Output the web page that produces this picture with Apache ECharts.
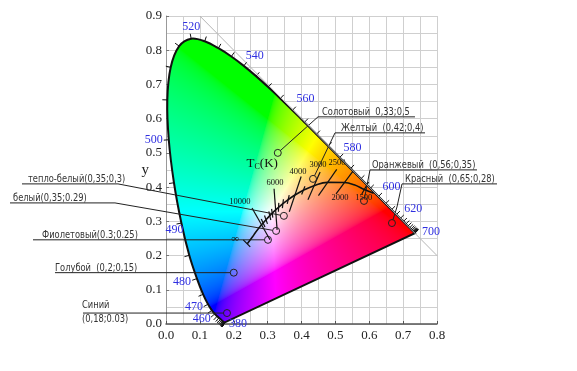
<!DOCTYPE html>
<html><head><meta charset="utf-8">
<script src="https://cdn.jsdelivr.net/npm/echarts@6/dist/echarts.min.js"></script>
<style>html,body{margin:0;padding:0;background:#fff}#c{width:577px;height:371px}</style>
</head><body><div id="c"></div>
<script>
// ---------- DATA ----------
// CIE 1931 spectral locus (5 nm steps)
const wavelengths = [380,385,390,395,400,405,410,415,420,425,430,435,440,445,450,455,460,465,470,475,480,485,490,495,500,505,510,515,520,525,530,535,540,545,550,555,560,565,570,575,580,585,590,595,600,605,610,615,620,625,630,635,640,645,650,655,660,665,670,675,680,685,690,695,700];
const locusX = [0.1741,0.1740,0.1738,0.1736,0.1733,0.1730,0.1726,0.1721,0.1714,0.1703,0.1689,0.1669,0.1644,0.1611,0.1566,0.1510,0.1440,0.1355,0.1241,0.1096,0.0913,0.0687,0.0454,0.0235,0.0082,0.0039,0.0139,0.0389,0.0743,0.1142,0.1547,0.1929,0.2296,0.2658,0.3016,0.3373,0.3731,0.4087,0.4441,0.4788,0.5125,0.5448,0.5752,0.6029,0.6270,0.6482,0.6658,0.6801,0.6915,0.7006,0.7079,0.7140,0.7190,0.7230,0.7260,0.7283,0.7300,0.7311,0.7320,0.7327,0.7334,0.7340,0.7344,0.7346,0.7347];
const locusY = [0.0050,0.0050,0.0049,0.0049,0.0048,0.0048,0.0048,0.0048,0.0051,0.0058,0.0069,0.0086,0.0109,0.0138,0.0177,0.0227,0.0297,0.0399,0.0578,0.0868,0.1327,0.2007,0.2950,0.4127,0.5384,0.6548,0.7502,0.8120,0.8338,0.8262,0.8059,0.7816,0.7543,0.7243,0.6923,0.6589,0.6245,0.5896,0.5547,0.5202,0.4866,0.4544,0.4242,0.3965,0.3725,0.3514,0.3340,0.3197,0.3083,0.2993,0.2920,0.2859,0.2809,0.2770,0.2740,0.2717,0.2700,0.2689,0.2680,0.2673,0.2666,0.2660,0.2656,0.2654,0.2653];
const labeledNm = [520,540,560,580,600,620,700,500,490,480,470,460,380];

// Planckian locus (from infinity down to ~1300 K)
const planckX = [0.2399,0.2565,0.2637,0.2807,0.2952,0.3064,0.3221,0.3451,0.3608,0.3805,0.4053,0.4369,0.4770,0.5267,0.5554,0.5857,0.6130];
const planckY = [0.2342,0.2564,0.2667,0.2884,0.3048,0.3166,0.3318,0.3516,0.3636,0.3768,0.3907,0.4041,0.4137,0.4133,0.4068,0.3931,0.3820];

// isotemperature lines (x1,y1,x2,y2)
const isoTemp = [10000,6000,4000,3000,2500,2000,1500,9000,8000,7000,6500,5500,5000,4500,3500];
const isoX1 = [0.254,0.319,0.399,0.455,0.504,0.552,0.598,0.2812,0.2908,0.3035,0.3117,0.3329,0.3467,0.3637,0.4102];
const isoY1 = [0.339,0.395,0.431,0.444,0.452,0.447,0.415,0.3070,0.3170,0.3293,0.3365,0.3540,0.3645,0.3763,0.4028];
const isoX2 = [0.307,0.328,0.364,0.419,0.450,0.502,0.578,0.2922,0.2996,0.3093,0.3153,0.3319,0.3435,0.3579,0.4004];
const isoY2 = [0.246,0.275,0.328,0.363,0.375,0.380,0.380,0.2834,0.2926,0.3039,0.3107,0.3280,0.3387,0.3509,0.3786];

// temperature labels
const tempLabelText = ['10000','6000','4000','3000','2500','2000','1500','\u221E'];
const tempLabelX = [0.218,0.322,0.390,0.449,0.505,0.514,0.584,0.204];
const tempLabelY = [0.357,0.412,0.444,0.465,0.471,0.368,0.368,0.249];

// annotated colour points
const annotTextAbove = ['\u0421\u043e\u043b\u043e\u0442\u043e\u0432\u044b\u0439  0,33;0,5','\u0416\u0435\u043b\u0442\u044b\u0439  (0,42;0,4)','\u041e\u0440\u0430\u043d\u0436\u0435\u0432\u044b\u0439  (0,56;0,35)','\u041a\u0440\u0430\u0441\u043d\u044b\u0439  (0,65;0,28)','\u0442\u0435\u043f\u043b\u043e-\u0431\u0435\u043b\u044b\u0439(0,35;0,3)','\u0431\u0435\u043b\u044b\u0439(0,35;0.29)','\u0424\u0438\u043e\u043b\u0435\u0442\u043e\u0432\u044b\u0439(0.3;0.25)','\u0413\u043e\u043b\u0443\u0431\u043e\u0439  (0,2;0,15)','\u0421\u0438\u043d\u0438\u0439'];
const annotTextBelow = ['','','','','','','','','(0,18;0.03)'];
const annotX = [0.330,0.434,0.5845,0.667,0.348,0.325,0.301,0.200,0.180];
const annotY = [0.500,0.424,0.3596,0.295,0.316,0.272,0.246,0.150,0.032];

// ---------- LAYOUT (leader lines, in axis units) ----------
const ulX0 = [0.4487,0.4989,0.6022,0.6967,-0.4251,-0.4605,-0.3926,-0.3277,-0.2450];
const ulX1 = [0.7350,0.7646,0.9181,0.9771,-0.1417,-0.1506,0.301,0.200,0.180];
const ulY  = [0.6053,0.5585,0.4503,0.4094,0.4094,0.3538,0.246,0.150,0.032];
const ulNearLeft = [true,true,true,true,false,false,false,false,false];
const elbows = [[],[],[],[[0.6819,0.3421]],[],[],[],[],[]];
const textDx = [4,6,2,3,6,3,9,0,-1];
const wlOffset = {520:[0,-12],540:[11,-10],560:[13,-11],580:[13,-10],600:[13,-10],620:[13,-10],700:[16,-1],500:[-15,0],490:[-7,7],480:[-15,3],470:[-14,3],460:[-13,5],380:[13,2]};

const SERIF = '"Liberation Serif","DejaVu Serif",serif';
const NARROW = '"DejaVu Sans Condensed","Liberation Sans",sans-serif';
const BLUE = '#2f2fe0';

// ---------- helpers ----------
function catmull(pts){
  let d = 'M ' + pts[0][0] + ' ' + pts[0][1];
  for (let i=0;i<pts.length-1;i++){
    const p0=pts[i-1]||pts[i], p1=pts[i], p2=pts[i+1], p3=pts[i+2]||pts[i+1];
    const c1=[p1[0]+(p2[0]-p0[0])/6, p1[1]+(p2[1]-p0[1])/6];
    const c2=[p2[0]-(p3[0]-p1[0])/6, p2[1]-(p3[1]-p1[1])/6];
    d += ' C '+c1[0]+' '+c1[1]+' '+c2[0]+' '+c2[1]+' '+p2[0]+' '+p2[1];
  }
  return d;
}
function gam(v){ return v<=0.0031308 ? 12.92*v : 1.055*Math.pow(v,1/2.4)-0.055; }
let gamutCanvas = null;
function buildGamut(x0,y0,w,h,a,b,d){
  const cc=document.createElement('canvas'); cc.width=w; cc.height=h;
  const c2=cc.getContext('2d'); const img=c2.createImageData(w,h);
  for(let j=0;j<h;j++){
    for(let i=0;i<w;i++){
      const px=x0+i+0.5, py=y0+j+0.5;
      const x=(px-a[0])/(b[0]-a[0])*0.8;
      const y=0.9-(py-a[1])/(b[1]-a[1])*0.9;
      const k=(j*w+i)*4;
      if (y<=0.0005 || x<=0){ img.data[k+3]=0; continue; }
      const X=x/y, Y=1, Z=(1-x-y)/y;
      let r=3.2406*X-1.5372*Y-0.4986*Z;
      let g=-0.9689*X+1.8758*Y+0.0415*Z;
      let bl=0.0557*X-0.2040*Y+1.0570*Z;
      r=Math.max(0,r); g=Math.max(0,g); bl=Math.max(0,bl);
      const m=Math.max(r,g,bl)||1;
      img.data[k]=Math.round(255*gam(r/m));
      img.data[k+1]=Math.round(255*gam(g/m));
      img.data[k+2]=Math.round(255*gam(bl/m));
      img.data[k+3]=255;
    }
  }
  c2.putImageData(img,0,0);
  const c=document.createElement('canvas'); c.width=w; c.height=h;
  const ctx=c.getContext('2d');
  ctx.translate(-x0,-y0);
  ctx.clip(new Path2D(d));
  ctx.drawImage(cc,x0,y0);
  return c;
}

function renderGamut(params, api){
  const pts = wavelengths.map((w,i)=>api.coord([locusX[i],locusY[i]]));
  const d = catmull(pts) + ' Z';
  const a = api.coord([0,0.9]), b = api.coord([0.8,0]);
  const x0=Math.floor(a[0]), y0=Math.floor(a[1]);
  const w=Math.ceil(b[0]-x0), h=Math.ceil(b[1]-y0);
  if(!gamutCanvas) gamutCanvas = buildGamut(x0,y0,w,h,a,b,d);
  const children = [
    {type:'image', style:{image:gamutCanvas, x:x0, y:y0, width:w, height:h}},
    {type:'path', shape:{pathData:d}, style:{fill:null, stroke:'#111', lineWidth:2}}
  ];
  const dist=(p,q)=>Math.hypot(p[0]-q[0],p[1]-q[1]);
  for(let i=0;i<pts.length;i++){
    const p=pts[i];
    let j=i; while(j>0 && dist(pts[j],p)<3) j--;
    let k=i; while(k<pts.length-1 && dist(pts[k],p)<3) k++;
    let tx=pts[k][0]-pts[j][0], ty=pts[k][1]-pts[j][1]; const L=Math.hypot(tx,ty);
    if(L<1e-6) continue;
    tx/=L; ty/=L;
    const nx=ty, ny=-tx, len=5;
    children.push({type:'line', shape:{x1:p[0],y1:p[1],x2:p[0]+nx*len,y2:p[1]+ny*len}, style:{stroke:'#111', lineWidth:1}});
  }
  labeledNm.forEach(nm=>{
    const i=wavelengths.indexOf(nm); const p=pts[i]; const o=wlOffset[nm];
    children.push({type:'text', x:p[0]+o[0], y:p[1]+o[1], style:{text:String(nm), fill:BLUE, fontSize:12, fontFamily:SERIF, align:'center', verticalAlign:'middle'}});
  });
  return {type:'group', children};
}

function renderIso(params, api){
  const children=[];
  for(let i=0;i<isoTemp.length;i++){
    const p1=api.coord([isoX1[i],isoY1[i]]), p2=api.coord([isoX2[i],isoY2[i]]);
    children.push({type:'line', shape:{x1:p1[0],y1:p1[1],x2:p2[0],y2:p2[1]}, style:{stroke:'#111', lineWidth:1.2}});
  }
  const e=api.coord([planckX[0],planckY[0]]);
  children.push({type:'line', shape:{x1:e[0]-4,y1:e[1]-4,x2:e[0]+3,y2:e[1]+3}, style:{stroke:'#111', lineWidth:1.2}});
  for(let i=0;i<tempLabelText.length;i++){
    const p=api.coord([tempLabelX[i],tempLabelY[i]]);
    children.push({type:'text', x:p[0], y:p[1], style:{text:tempLabelText[i], fill:'#111', fontSize:i===7?11:8.5, fontFamily:SERIF, align:'center', verticalAlign:'middle'}});
  }
  const t=api.coord([0.284,0.469]);
  children.push({type:'text', x:t[0], y:t[1], style:{text:'{a|T}{b|C}{a|(K)}', rich:{a:{fontSize:13,fontFamily:SERIF,fill:'#111'}, b:{fontSize:8,fontFamily:SERIF,fill:'#111', padding:[7,0,0,0]}}, align:'center', verticalAlign:'middle'}});
  return {type:'group', children};
}

function annText(x,y,text){
  return {type:'text', x:x, y:y, scaleX:0.84, style:{text:text, fill:'#333', fontSize:11, fontFamily:NARROW, align:'left', verticalAlign:'middle'}};
}
function renderAnnot(params, api){
  const i=params.dataIndex;
  const c=api.coord([annotX[i],annotY[i]]);
  const u0=api.coord([ulX0[i],ulY[i]]), u1=api.coord([ulX1[i],ulY[i]]);
  let pts;
  if(ulNearLeft[i]) pts=[u1,u0];
  else pts=[u0,u1];
  elbows[i].forEach(e=>pts.push(api.coord(e)));
  const last=pts[pts.length-1];
  let dx=c[0]-last[0], dy=c[1]-last[1]; const L=Math.hypot(dx,dy); const r=3.5;
  if(L>r){ pts.push([c[0]-dx/L*r, c[1]-dy/L*r]); }
  else { pts[pts.length-1]=[c[0]-r,c[1]]; }
  const children=[
    {type:'polyline', shape:{points:pts}, style:{stroke:'#222', fill:null, lineWidth:1}},
    {type:'circle', shape:{cx:c[0],cy:c[1],r:r}, style:{stroke:'#222', fill:null, lineWidth:1}},
    annText(u0[0]+textDx[i], u0[1]-(i===8?8:5), annotTextAbove[i])
  ];
  if(annotTextBelow[i]) children.push(annText(u0[0]+textDx[i], u0[1]+6, annotTextBelow[i]));
  return {type:'group', children};
}

const chart = echarts.init(document.getElementById('c'));
chart.setOption({
  animation:false,
  backgroundColor:'#fff',
  grid:{left:166, top:16, right:140, bottom:47},
  xAxis:{type:'value', min:0, max:0.8, interval:0.1,
    axisLine:{lineStyle:{color:'#555', width:1.5}},
    axisTick:{show:true, inside:true, length:3, lineStyle:{color:'#555'}},
    axisLabel:{formatter:v=>v.toFixed(1), fontFamily:SERIF, fontSize:13, color:'#222', margin:5},
    splitLine:{show:true, lineStyle:{color:'#cfcfcf', width:1}},
    minorTick:{show:false, splitNumber:2},
    minorSplitLine:{show:true, lineStyle:{color:'#cfcfcf', width:1}}},
  yAxis:{type:'value', min:0, max:0.9, interval:0.1, name:'y', nameLocation:'middle', nameGap:17, nameRotate:0, nameMoveOverlap:false,
    nameTextStyle:{fontFamily:SERIF, fontSize:15, color:'#222'},
    axisLine:{show:true, lineStyle:{color:'#999', width:1}},
    axisTick:{show:true, inside:true, length:3, lineStyle:{color:'#777'}},
    axisLabel:{formatter:v=>v.toFixed(1), fontFamily:SERIF, fontSize:13, color:'#222', margin:4},
    splitLine:{show:true, lineStyle:{color:'#cfcfcf', width:1}},
    minorTick:{show:false, splitNumber:2},
    minorSplitLine:{show:true, lineStyle:{color:'#cfcfcf', width:1}}},
  series:[
    {type:'line', data:[[0.1,0.9],[0.8,0.2]], symbol:'none', lineStyle:{color:'#b5b5b5', width:1}, silent:true},
    {type:'custom', renderItem:renderGamut, data:[[0,0]], silent:true},
    {type:'line', data:planckX.map((x,i)=>[x,planckY[i]]), smooth:0.4, symbol:'none', lineStyle:{color:'#111', width:1.6}, silent:true},
    {type:'custom', renderItem:renderIso, data:[[0,0]], silent:true},
    {type:'custom', renderItem:renderAnnot, data:annotX.map((x,i)=>[x,annotY[i]]), silent:true}
  ]
});
</script></body></html>
